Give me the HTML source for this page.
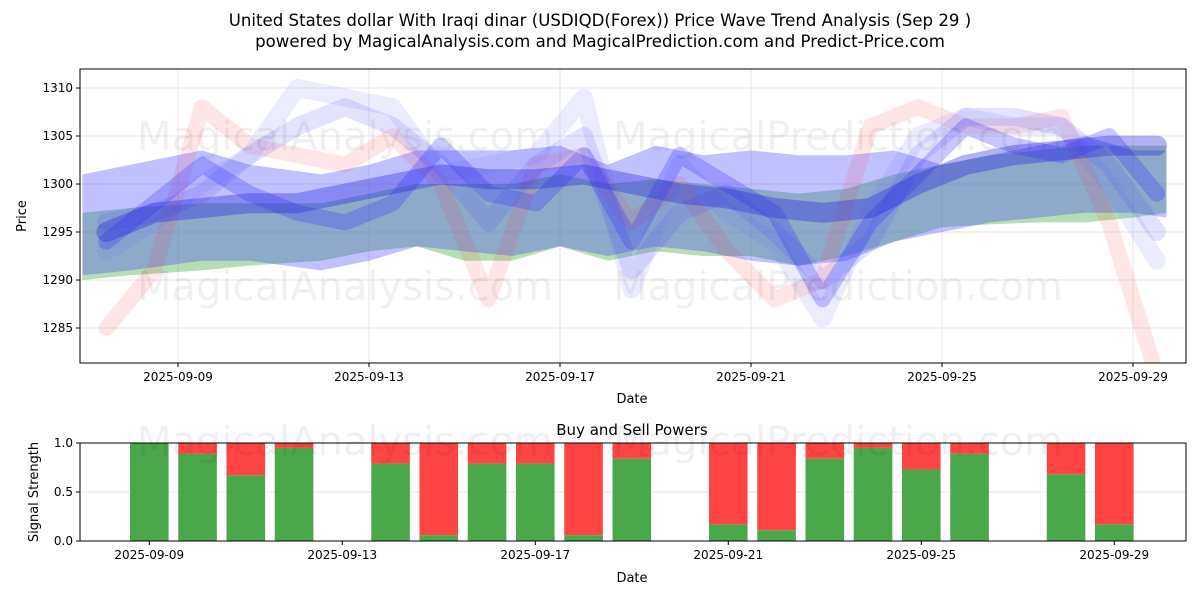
<!DOCTYPE html>
<html><head><meta charset="utf-8"><style>
body{margin:0;background:#fff;font-family:"Liberation Sans","DejaVu Sans",sans-serif;}
svg text{font-family:"DejaVu Sans","Liberation Sans",sans-serif;}
</style></head><body>
<svg id="c" width="1200" height="600" xmlns="http://www.w3.org/2000/svg">
<text x="600" y="26" text-anchor="middle" font-size="16.6">United States dollar With Iraqi dinar (USDIQD(Forex)) Price Wave Trend Analysis (Sep 29 )</text>
<text x="600" y="47" text-anchor="middle" font-size="16.6">powered by MagicalAnalysis.com and MagicalPrediction.com and Predict-Price.com</text>
<g id="top"></g>
<g id="bot"></g>
</svg>
<script>
const NS="http://www.w3.org/2000/svg";
const svg=document.getElementById('c');
const top_=document.getElementById('top');
const bot=document.getElementById('bot');
function mk(p,tag,at){const e=document.createElementNS(NS,tag);for(const k in at)e.setAttribute(k,at[k]);p.appendChild(e);return e;}

// ---- data ----
const bandDays=[7,8,9.5,10.5,12,13,14,15,16,17,18,19,20,21,22,23,24,25,26,27,28,29,29.7];
const blueUpper=[1301,1302,1303.5,1302,1301,1302,1303.5,1303.5,1303.5,1304,1302,1304,1303,1303.5,1303,1303,1303.5,1302,1303,1304,1305,1303.5,1303.5];
const blueLower=[1290.5,1291,1292,1292,1291,1292,1293.5,1293,1292.5,1293.5,1292.5,1293.5,1293,1292,1291.5,1292,1294,1295,1296,1296.5,1297,1297,1296.5];
const greenUpper=[1297,1297.5,1298,1298,1298,1299,1300,1300,1300,1301,1300,1300.5,1300,1299.5,1299,1299.5,1301,1302,1303,1303.5,1304,1304,1304];
const greenLower=[1290,1290.5,1291,1291.5,1292,1293,1293.5,1292,1292,1293.5,1292,1293,1292.5,1292.5,1291.5,1292.5,1294,1295.5,1295.8,1296,1296,1296.5,1297];
const lineDays=[7.5,8.5,9.5,10.5,11.5,12.5,13.5,14.5,15.5,16.5,17.5,18.5,19.5,20.5,21.5,22.5,23.5,24.5,25.5,26.5,27.5,28.5,29.5];
const blueLine1=[1295,1297,1297.5,1298,1298,1299,1300,1301,1300.5,1300.5,1301,1300,1299,1298.5,1297.5,1297,1297.5,1300,1302,1303,1303.5,1304,1304];
const blueLine2=[1294,1298,1302,1299,1297,1296,1298,1304,1299,1298,1303,1294,1303,1300,1297,1288,1296,1301,1306,1304,1303,1305,1299];
const blueLine3=[1296,1297,1299,1303,1306,1308,1306,1302,1296,1302,1305,1291,1297,1299,1295,1290,1294,1303,1307,1307,1306,1302,1295];
const blueLine4=[1293,1296,1300,1303,1310,1309,1308,1301,1302,1303,1309,1289,1302,1297,1294,1286,1297,1305,1307,1306,1306,1300,1292];
const redLine=[1285,1291,1308,1304,1303,1302,1305,1300,1288,1302,1303,1296,1300,1293,1288,1290,1306,1308,1306,1306,1307,1296,1280];
const tickDays=[9,13,17,21,25,29];
const tickLabels=['2025-09-09','2025-09-13','2025-09-17','2025-09-21','2025-09-25','2025-09-29'];
const yTicks=[1285,1290,1295,1300,1305,1310];
const barDays=[9,10,11,12,14,15,16,17,18,19,21,22,23,24,25,26,28,29];
const buyPower=[1.0,0.89,0.67,0.95,0.79,0.06,0.79,0.79,0.06,0.84,0.17,0.11,0.84,0.95,0.73,0.89,0.68,0.17];
const sigTicks=[0,0.5,1.0];
const sigLabels=['0.0','0.5','1.0'];

// ---- scales ----
const L=80,R=1186,T1=69,B1=363,T2=443,B2=541;
const x=d=>178+(d-9)*47.75;
const xb=d=>149.3+(d-9)*48.25;
const y=v=>88+(1310-v)*9.6;
const y2=v=>B2-v*(B2-T2);

const defs=mk(svg,'defs',{});
const cp=mk(defs,'clipPath',{id:'cl'});mk(cp,'rect',{x:L,y:T1,width:R-L,height:B1-T1});

yTicks.forEach(v=>{const g=mk(top_,'line',{x1:L,x2:R,y1:y(v),y2:y(v),stroke:'#e6e6e6'});});
tickDays.forEach(d=>{const g=mk(top_,'line',{x1:x(d),x2:x(d),y1:T1,y2:B1,stroke:'#e6e6e6'});});

[[345,150,'MagicalAnalysis.com'],[838,150,'MagicalPrediction.com'],[345,300,'MagicalAnalysis.com'],[838,300,'MagicalPrediction.com'],[345,455,'MagicalAnalysis.com'],[838,455,'MagicalPrediction.com']].forEach(w=>{
 const t=mk(svg,'text',{x:w[0],y:w[1],'text-anchor':'middle','font-size':40,fill:'#000','fill-opacity':0.06});t.textContent=w[2];
 });

const plot=mk(top_,'g',{'clip-path':'url(#cl)'});
function band(up,lo,fill,op,name){
 let pts=bandDays.map((d,i)=>x(d)+','+y(up[i]));
 pts=pts.concat(bandDays.map((d,i)=>x(d)+','+y(lo[i])).reverse());
 const p=mk(plot,'polygon',{points:pts.join(' '),fill:fill,'fill-opacity':op});
 }
function line(vals,col,op,w,name){
 const p=mk(plot,'polyline',{points:lineDays.map((d,i)=>x(d)+','+y(vals[i])).join(' '),fill:'none',stroke:col,'stroke-opacity':op,'stroke-width':w,'stroke-linejoin':'round','stroke-linecap':'round'});
 }
band(greenUpper,greenLower,'#2ca02c',0.35,'green-band');
band(blueUpper,blueLower,'#3333ff',0.3,'blue-band');
line(redLine,'#ff3333',0.12,16,'red-wave');
line(blueLine4,'#6666ff',0.12,18,'blue-wave-4');
line(blueLine3,'#4444ff',0.15,18,'blue-wave-3');
line(blueLine2,'#2222ff',0.25,16,'blue-wave-2');
line(blueLine1,'#2222dd',0.35,20,'blue-wave-1');

let f=mk(top_,'rect',{x:L,y:T1,width:R-L,height:B1-T1,fill:'none',stroke:'#000','stroke-width':1});

yTicks.forEach(v=>{mk(top_,'line',{x1:L-4,x2:L,y1:y(v),y2:y(v),stroke:'#000'});
 const t=mk(top_,'text',{x:L-7,y:y(v)+4,'text-anchor':'end','font-size':12});t.textContent=v;
 });
tickDays.forEach((d,i)=>{mk(top_,'line',{x1:x(d),x2:x(d),y1:B1,y2:B1+4,stroke:'#000'});
 const t=mk(top_,'text',{x:x(d),y:B1+18,'text-anchor':'middle','font-size':12});t.textContent=tickLabels[i];
 });
let t=mk(top_,'text',{x:632,y:403,'text-anchor':'middle','font-size':13});t.textContent='Date';
t=mk(top_,'text',{x:26,y:216,'text-anchor':'middle','font-size':13,transform:'rotate(-90 26 216)'});t.textContent='Price';

// bottom
t=mk(bot,'text',{x:632,y:435,'text-anchor':'middle','font-size':15});t.textContent='Buy and Sell Powers';
mk(bot,'line',{x1:L,x2:R,y1:y2(0.5),y2:y2(0.5),stroke:'#e6e6e6'});
const bw=0.8*48.25;
barDays.forEach((d,i)=>{
 const b=buyPower[i];
 const cx=xb(d);
 const s=mk(bot,'rect',{x:cx-bw/2,y:y2(1),width:bw,height:y2(b)-y2(1),fill:'#ff4444'});
 
 const g=mk(bot,'rect',{x:cx-bw/2,y:y2(b),width:bw,height:y2(0)-y2(b),fill:'#4aa84a'});
 
});
f=mk(bot,'rect',{x:L,y:T2,width:R-L,height:B2-T2,fill:'none',stroke:'#000'});

sigTicks.forEach((v,i)=>{mk(bot,'line',{x1:L-4,x2:L,y1:y2(v),y2:y2(v),stroke:'#000'});
 const t=mk(bot,'text',{x:L-7,y:y2(v)+4,'text-anchor':'end','font-size':12});t.textContent=sigLabels[i];
 });
tickDays.forEach((d,i)=>{mk(bot,'line',{x1:xb(d),x2:xb(d),y1:B2,y2:B2+4,stroke:'#000'});
 const t=mk(bot,'text',{x:xb(d),y:B2+18,'text-anchor':'middle','font-size':12});t.textContent=tickLabels[i];
 });
t=mk(bot,'text',{x:632,y:582,'text-anchor':'middle','font-size':13});t.textContent='Date';
t=mk(bot,'text',{x:38,y:492,'text-anchor':'middle','font-size':13,transform:'rotate(-90 38 492)'});t.textContent='Signal Strength';
</script>
</body></html>
